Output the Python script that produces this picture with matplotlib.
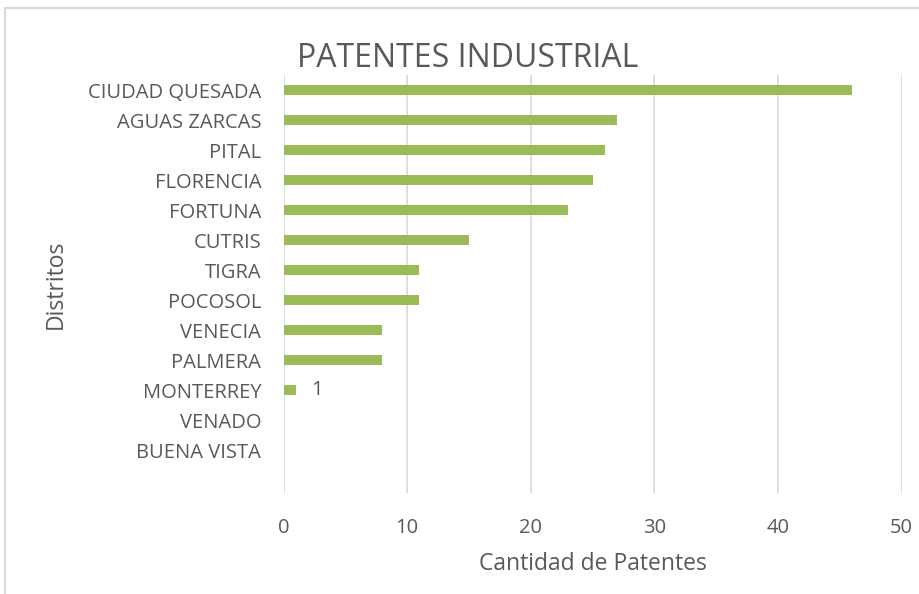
import matplotlib.pyplot as plt
from matplotlib.lines import Line2D

# data, top to bottom as in the chart
distritos = ['CIUDAD QUESADA', 'AGUAS ZARCAS', 'PITAL', 'FLORENCIA', 'FORTUNA',
             'CUTRIS', 'TIGRA', 'POCOSOL', 'VENECIA', 'PALMERA', 'MONTERREY',
             'VENADO', 'BUENA VISTA']
patentes = [46, 27, 26, 25, 23, 15, 11, 11, 8, 8, 1, 0, 0]
x_ticks = [0, 10, 20, 30, 40, 50]

plt.rcParams['font.family'] = ['Open Sans', 'DejaVu Sans']
gris = '#595959'
verde = '#9BBB59'

fig = plt.figure(figsize=(9.2, 5.94), dpi=100)
ax = fig.add_axes([0.3082, 0.170, 0.6717, 0.7037])

pos = list(range(len(distritos)))
ax.barh(pos, patentes, height=0.35, color=verde, zorder=3)

# only the MONTERREY bar carries a label
i = distritos.index('MONTERREY')
ax.annotate(str(patentes[i]), (patentes[i], pos[i]), xytext=(11, 0),
            textcoords='offset points', va='center', ha='left',
            fontsize=14.5, color=gris)

ax.set_xlim(0, 50)
ax.set_ylim(13.43, -0.5)
ax.set_xticks(x_ticks)
ax.set_yticks(pos)
ax.set_yticklabels(distritos)
ax.grid(axis='x', color='#D9D9D9', linewidth=1.2, zorder=0)
for s in ax.spines.values():
    s.set_visible(False)
ax.tick_params(axis='both', length=0, labelsize=14.5, labelcolor=gris)
ax.tick_params(axis='y', pad=16)
ax.tick_params(axis='x', pad=18)

ax.set_xlabel('Cantidad de Patentes', fontsize=16.5, color=gris, labelpad=10)
ax.set_ylabel('Distritos', fontsize=16.5, color=gris)
ax.yaxis.set_label_coords(-0.350, 0.5)
ax.set_title('PATENTES INDUSTRIAL', fontsize=23, color=gris, pad=6, x=0.2985)

# thin frame of the chart box (left and top edges visible)
fig.add_artist(Line2D([5.5 / 920, 5.5 / 920], [0, 1 - 8 / 594],
                      color='#D9D9D9', linewidth=1.5, transform=fig.transFigure))
fig.add_artist(Line2D([5 / 920, 1], [1 - 8 / 594, 1 - 8 / 594],
                      color='#D9D9D9', linewidth=1.5, transform=fig.transFigure))

fig.savefig('out.png', dpi=100)
